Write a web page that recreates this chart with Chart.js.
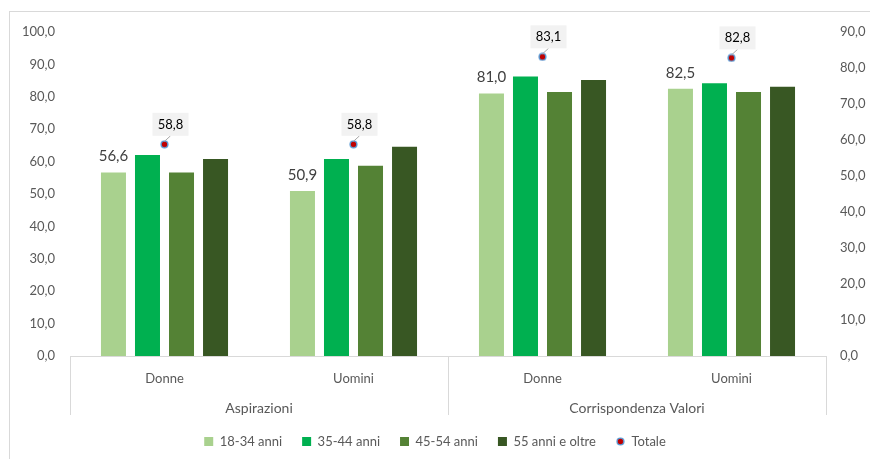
<!DOCTYPE html>
<html>
<head>
<meta charset="utf-8">
<script src="https://cdn.jsdelivr.net/npm/chart.js@4.4.0/dist/chart.umd.min.js"></script>
<style>
  body { margin: 0; background: #fff; }
  #wrap { width: 870px; height: 459px; }
</style>
</head>
<body>
<div id="wrap"><canvas id="canvas" width="870" height="459"></canvas></div>
<script>
// dati
const categories = ['Donne', 'Uomini', 'Donne', 'Uomini'];
const groups = ['Aspirazioni', 'Corrispondenza Valori'];
const seriesNames = ['18-34 anni', '35-44 anni', '45-54 anni', '55 anni e oltre', 'Totale'];
const age1834 = [56.6, 50.9, 81.0, 82.5];
const age3544 = [62.0, 60.8, 86.3, 84.2];
const age4554 = [56.6, 58.7, 81.5, 81.5];
const age55 = [60.8, 64.6, 85.2, 83.1];
const totale = [58.8, 58.8, 83.1, 82.8];
const leftMax = 100;
const rightMax = 90;

const FONT = 'Lato, "Open Sans", sans-serif';
const fmt = v => v.toFixed(1).replace('.', ',');

// marker del Totale (punto rosso con bordo blu), usato anche in legenda
const dot = document.createElement('canvas');
dot.width = 9; dot.height = 9;
(function () {
    const c = dot.getContext('2d');
    c.beginPath();
    c.arc(4.5, 4.5, 3.4, 0, Math.PI * 2);
    c.fillStyle = '#C00000';
    c.fill();
    c.lineWidth = 1.4;
    c.strokeStyle = '#5B9BD5';
    c.stroke();
})();

// etichette dati + asse categorie a due livelli
const labelsPlugin = {
    id: 'labels',
    afterDatasetsDraw(chart) {
        const ctx = chart.ctx;
        ctx.save();
        // valori 18-34 sopra le barre
        const m0 = chart.getDatasetMeta(0);
        ctx.font = '15px ' + FONT;
        ctx.fillStyle = '#404040';
        ctx.textAlign = 'center';
        ctx.textBaseline = 'middle';
        m0.data.forEach((bar, i) => {
            ctx.fillText(fmt(age1834[i]), bar.x, bar.y - 16);
        });
        // etichette Totale in riquadro
        const m4 = chart.getDatasetMeta(4);
        ctx.font = '13px ' + FONT;
        m4.data.forEach((pt, i) => {
            const cx = pt.x + 6, cy = pt.y - 20;
            const w = 36, h = 23;
            ctx.strokeStyle = '#A6A6A6';
            ctx.lineWidth = 1;
            ctx.beginPath();
            ctx.moveTo(cx, cy + h / 2);
            ctx.lineTo(pt.x, pt.y - 3);
            ctx.stroke();
            ctx.fillStyle = '#F2F2F2';
            ctx.fillRect(cx - w / 2, cy - h / 2, w, h);
            ctx.fillStyle = '#000';
            ctx.fillText(fmt(totale[i]), cx, cy);
        });
        ctx.restore();
    },
    afterDraw(chart) {
        const ctx = chart.ctx;
        const x = chart.scales.x;
        const area = chart.chartArea;
        const step = (area.right - area.left) / categories.length;
        ctx.save();
        ctx.strokeStyle = '#D9D9D9';
        ctx.lineWidth = 1;
        // cornice
        ctx.strokeRect(9.5, 11.5, 900, 500);
        // separatori dei gruppi
        [0, 2, 4].forEach(k => {
            const px = Math.round(area.left + step * k) + 0.5;
            ctx.beginPath();
            ctx.moveTo(px, area.bottom);
            ctx.lineTo(px, area.bottom + 59);
            ctx.stroke();
        });
        ctx.font = '14px ' + FONT;
        ctx.fillStyle = '#595959';
        ctx.textAlign = 'center';
        ctx.textBaseline = 'middle';
        groups.forEach((g, j) => {
            const gx = (x.getPixelForValue(j * 2) + x.getPixelForValue(j * 2 + 1)) / 2;
            ctx.fillText(g, gx, area.bottom + 52);
        });
        ctx.restore();
    }
};

const barStyle = (label, data, color) => ({
    label: label,
    data: data,
    backgroundColor: color,
    borderWidth: 0,
    pointStyle: 'rect',
    yAxisID: 'y',
    categoryPercentage: 0.72,
    barPercentage: 0.735
});

try {
    var ctx = document.getElementById('canvas').getContext('2d');
    var myChart = new Chart(ctx, {
        type: 'bar',
        data: {
            labels: categories,
            datasets: [
                barStyle(seriesNames[0], age1834, '#A9D18E'),
                barStyle(seriesNames[1], age3544, '#00B050'),
                barStyle(seriesNames[2], age4554, '#548235'),
                barStyle(seriesNames[3], age55, '#385723'),
                {
                    type: 'line',
                    label: seriesNames[4],
                    data: totale,
                    yAxisID: 'y1',
                    showLine: false,
                    pointStyle: dot,
                    backgroundColor: '#C00000',
                    borderColor: '#5B9BD5'
                }
            ]
        },
        options: {
            responsive: false,
            animation: false,
            layout: { padding: { top: 32, left: 0, right: 0, bottom: 1 } },
            plugins: {
                tooltip: { enabled: false },
                legend: {
                    position: 'bottom',
                    labels: {
                        usePointStyle: true,
                        boxWidth: 9,
                        boxHeight: 9,
                        padding: 20,
                        color: '#595959',
                        font: { family: FONT, size: 13 }
                    }
                }
            },
            scales: {
                x: {
                    grid: { display: false, drawTicks: false },
                    border: { display: true, color: '#D9D9D9' },
                    ticks: { color: '#595959', padding: 15, font: { family: FONT, size: 13 } },
                    afterFit: s => { s.height = 59; }
                },
                y: {
                    position: 'left',
                    min: 0,
                    max: leftMax,
                    grid: { display: false, drawTicks: false },
                    border: { display: false },
                    ticks: { stepSize: 10, padding: 15, color: '#595959', font: { family: FONT, size: 13 }, callback: v => fmt(v) },
                    afterFit: s => { s.width = 70; }
                },
                y1: {
                    position: 'right',
                    min: 0,
                    max: rightMax,
                    grid: { display: false, drawTicks: false },
                    border: { display: false },
                    ticks: { stepSize: 10, padding: 14, color: '#595959', font: { family: FONT, size: 13 }, callback: v => fmt(v) },
                    afterFit: s => { s.width = 44; }
                }
            }
        },
        plugins: [labelsPlugin]
    });
} catch (e) {
    console.log(e.message);
}
</script>
</body>
</html>
